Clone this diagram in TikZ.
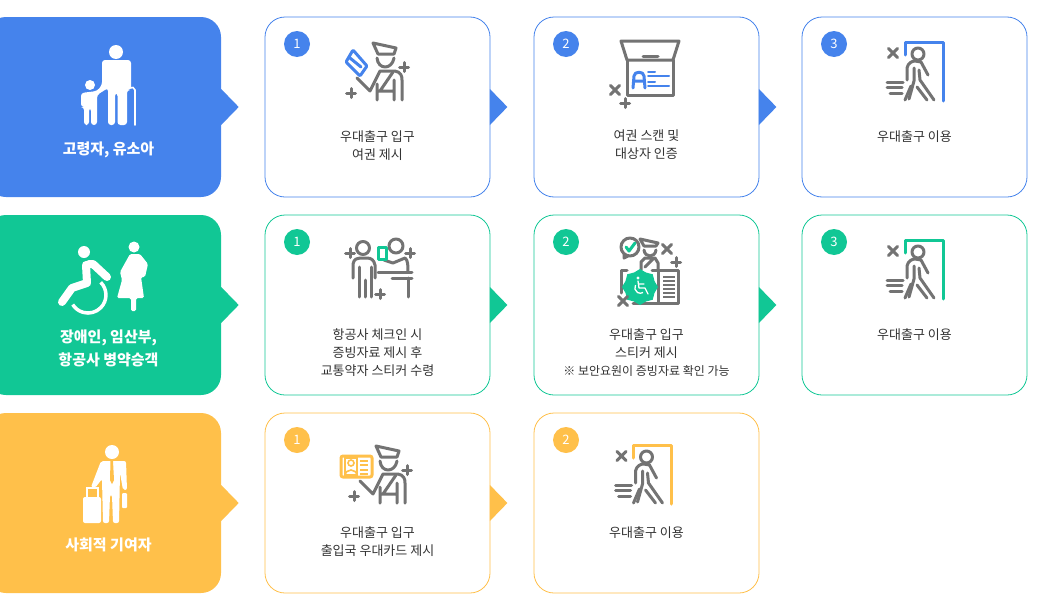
\documentclass[tikz,border=0pt]{standalone}
\usepackage{fontspec}
\setmainfont{Noto Sans CJK KR}
\usetikzlibrary{shapes.geometric}
\definecolor{bluec}{HTML}{4583EC}
\definecolor{greenc}{HTML}{11C795}
\definecolor{yellowc}{HTML}{FFC04A}
\definecolor{greyc}{HTML}{737373}
\definecolor{textc}{HTML}{333333}
\tikzset{
	panel/.style={fill=#1, rounded corners=20, minimum width=235, minimum height=180, inner sep=0},
	stepbox/.style={draw=#1, line width=0.8, fill=white, rounded corners=20, minimum width=225, minimum height=180, inner sep=0},
	badge/.style={circle, fill=#1, text=white, minimum size=26, inner sep=0, font=\fontsize{13}{13}\selectfont},
	steptext/.style={align=center, text=textc, anchor=north, inner sep=0, font=\fontsize{13}{18}\selectfont},
	paneltext/.style={align=center, text=white, anchor=north, inner sep=0, font=\fontsize{15}{23}\selectfont\bfseries},
	icon/.style={draw=greyc, line width=3, line cap=round, line join=round},
	accent/.style={draw=#1, line width=3, line cap=round, line join=round},
	whitefig/.style={fill=white, draw=none}
}
% small marks
\newcommand{\plusmark}[1]{\draw[icon] (#1) ++(-4.5,0) -- ++(9,0) (#1) ++(0,-4.5) -- ++(0,9);}
\newcommand{\xmark}[1]{\draw[icon] (#1) ++(-4.5,-4.5) -- ++(9,9) (#1) ++(4.5,-4.5) -- ++(-9,9);}
% officer and walker, drawn at their place in the first row
\newcommand{\officer}{
	\draw[icon] (373,43) -- (396,48) -- (394,54) -- (378,54) -- cycle;
	\draw[icon] (377,58) .. controls (378,70) and (392,70) .. (394,58);
	\draw[icon] (357,78) -- (370,91) -- (376,79) -- (380,71) -- (395,71) .. controls (401,72) and (402,76) .. (402,80) -- (402,100);
	\draw[icon] (377,84) -- (377,100) (394,80) -- (394,100) (377,91) -- (394,91) (380,91) -- (393,72);
	\plusmark{404,67}
	\plusmark{351,93}
}
\newcommand{\walker}[1]{
	\draw[accent=#1] (905,55) -- (905,42) -- (943,42) -- (943,101);
	\draw[icon] (918,54) circle (6);
	\draw[icon] (907,80) -- (907,68) .. controls (908,63) and (912,61) .. (915,61) -- (921,62) -- (928,75);
	\draw[icon] (914,68) -- (914,81) -- (909,99);
	\draw[icon] (919,70) -- (920,80) -- (934,100) (917,87) -- (927,100) (911,86) -- (905,100);
	\draw[icon] (887,82) -- (903,82) (887,87) -- (902,87) (890,93) -- (902,93);
	\xmark{893,53}
}
\begin{document}
\begin{tikzpicture}[x=1pt, y=-1pt]
	\useasboundingbox (0,0) rectangle (1039,608);

	% left panels
	\node[panel=bluec] (P1) at (103.5,107) {};
	\node[panel=greenc] (P2) at (103.5,305) {};
	\node[panel=yellowc] (P3) at (103.5,503) {};
	\fill[bluec] (P1.east) ++(0,-18) -- ++(17.5,18) -- ++(-17.5,18) -- cycle;
	\fill[greenc] (P2.east) ++(0,-18) -- ++(17.5,18) -- ++(-17.5,18) -- cycle;
	\fill[yellowc] (P3.east) ++(0,-18) -- ++(17.5,18) -- ++(-17.5,18) -- cycle;

	% step boxes
	\node[stepbox=bluec] (A1) at (377.5,107) {};
	\node[stepbox=bluec] (A2) at (646.5,107) {};
	\node[stepbox=bluec] (A3) at (914.5,107) {};
	\node[stepbox=greenc] (B1) at (377.5,305) {};
	\node[stepbox=greenc] (B2) at (646.5,305) {};
	\node[stepbox=greenc] (B3) at (914.5,305) {};
	\node[stepbox=yellowc] (C1) at (377.5,503) {};
	\node[stepbox=yellowc] (C2) at (646.5,503) {};

	% arrow tips between the boxes
	\fill[bluec] (A1.east) ++(-0.5,-18) -- ++(17.5,18) -- ++(-17.5,18) -- cycle;
	\fill[bluec] (A2.east) ++(-0.5,-18) -- ++(17.5,18) -- ++(-17.5,18) -- cycle;
	\fill[greenc] (B1.east) ++(-0.5,-18) -- ++(17.5,18) -- ++(-17.5,18) -- cycle;
	\fill[greenc] (B2.east) ++(-0.5,-18) -- ++(17.5,18) -- ++(-17.5,18) -- cycle;
	\fill[yellowc] (C1.east) ++(-0.5,-18) -- ++(17.5,18) -- ++(-17.5,18) -- cycle;

	% number badges
	\node[badge=bluec] (NA1) at (297,44) {1};
	\node[badge=bluec] (NA2) at (566,44) {2};
	\node[badge=bluec] (NA3) at (834,44) {3};
	\node[badge=greenc] (NB1) at (297,242) {1};
	\node[badge=greenc] (NB2) at (566,242) {2};
	\node[badge=greenc] (NB3) at (834,242) {3};
	\node[badge=yellowc] (NC1) at (297,440) {1};
	\node[badge=yellowc] (NC2) at (566,440) {2};

	% texts
	\node[paneltext] (TP1) at (108.5,142) {고령자, 유소아};
	\node[paneltext] (TP2) at (108.5,329.5) {장애인, 임산부,\\항공사 병약승객};
	\node[paneltext] (TP3) at (108.5,538) {사회적 기여자};
	\node[steptext] (TA1) at (377.5,130) {우대출구 입구\\여권 제시};
	\node[steptext] (TA2) at (646.5,130) {여권 스캔 및\\대상자 인증};
	\node[steptext] (TA3) at (914.5,130) {우대출구 이용};
	\node[steptext] (TB1) at (377.5,328) {항공사 체크인 시\\증빙자료 제시 후\\교통약자 스티커 수령};
	\node[steptext] (TB2) at (646.5,328) {우대출구 입구\\스티커 제시\\{\fontsize{12}{18}\selectfont ※ 보안요원이 증빙자료 확인 가능}};
	\node[steptext] (TB3) at (914.5,328) {우대출구 이용};
	\node[steptext] (TC1) at (377.5,526) {우대출구 입구\\출입국 우대카드 제시};
	\node[steptext] (TC2) at (646.5,526) {우대출구 이용};

	% elderly and child
	\fill[whitefig] (116,52) circle (7);
	\fill[whitefig, rounded corners=3] (102,60) -- (131,60) -- (131,90) -- (127,90) -- (127,125) -- (117.5,125) -- (117.5,93) -- (115,93) -- (115,125) -- (108,125) -- (108,88) -- (97,95) -- (97,125) -- (91,125) -- (91,108) -- (89,108) -- (89,125) -- (84,125) -- (84,107) -- (81,107) -- (81,93) -- (97,91) -- (102,85) -- cycle;
	\fill[whitefig] (90,85) circle (5);
	\draw[white, line width=1.6, line cap=round] (135,125) -- (135,90) -- (133,87.5) -- (130,88);

	% wheelchair and pregnant woman
	\fill[whitefig] (84,252) circle (6);
	\draw[white, line width=8, line cap=round, line join=round] (86,265) -- (87,283) -- (72,288) -- (62,302) (89,264) -- (93,264) -- (107,277);
	\draw[white, line width=3.5] (100.7,282.3) arc[start angle=-45, end angle=148, radius=18];
	\fill[whitefig] (134,247) circle (5.5);
	\fill[whitefig, rounded corners=1.5] (130,254) -- (140,254) -- (148,264) -- (145,277) -- (141,277) -- (144,298) -- (136,298) -- (136,311) -- (131,311) -- (131,298) -- (117,298) -- (122,280) -- (120,272) -- cycle;

	% business traveller
	\fill[whitefig] (112,452) circle (7);
	\fill[whitefig, rounded corners=2] (101,461) -- (126,461) -- (127,490) -- (123,490) -- (120,473) -- (119,523) -- (113,523) -- (112,495) -- (110,495) -- (109,523) -- (103,523) -- (102,479) -- (95,488) -- (91,487) -- cycle;
	\fill[yellowc] (110.5,461) -- (113,461) -- (114,480) -- (112,484) -- (110,480) -- cycle;
	\fill[whitefig, rounded corners=2] (83,497) rectangle (101,523);
	\draw[white, line width=1.6] (87,497) -- (87,488) -- (98,488) -- (98,497);
	\fill[whitefig, rounded corners=1] (122,493) rectangle (127,508);

	% row one icons
	\officer
	\draw[accent=bluec, rounded corners=1] (353,50) -- (346,62) -- (360,76) -- (367,66) -- cycle;
	\draw[accent=bluec] (350,58) -- (361,67);
	\draw[icon] (621,41) -- (679,41) -- (673,60) -- (627,60) -- cycle;
	\draw[icon] (627,60) -- (627,95) -- (673,95) -- (673,60);
	\draw[icon] (643,56) -- (658,56);
	\xmark{615,90}
	\plusmark{625,103}
	\draw[accent=bluec] (633,88) -- (634,76) .. controls (634,71) and (644,71) .. (644,76) -- (645,88) (634,81) -- (644,81);
	\draw[accent=bluec, line width=2] (648,72) -- (655,72) (648,76) -- (669,76) (648,82) -- (655,82) (648,86) -- (669,86);
	\walker{bluec}

	% row two icons
	\draw[icon] (363,248) circle (6.5);
	\draw[icon] (353,278) -- (353,264) .. controls (354,259) and (357,258) .. (360,258) -- (367,258) .. controls (371,258) and (374,260) .. (375,265) -- (375,278);
	\draw[icon] (359,267) -- (359,297) (365,280) -- (365,297) (371,267) -- (371,297);
	\draw[icon] (396,246) circle (7);
	\draw[icon] (384,260) -- (393,263) -- (405,258) .. controls (408,260) and (408,266) .. (408,272);
	\draw[icon] (378,272) -- (412,272) (392,278) -- (412,278) (408,278) -- (408,297);
	\draw[accent=greenc] (378,247) rectangle (386,259);
	\plusmark{350,253}
	\plusmark{410,253}
	\plusmark{380,294}

	\draw[icon] (630,247) circle (9) (624,254) -- (624,258) -- (628,256);
	\draw[accent=greenc] (626,247) -- (629,251) -- (635,243);
	\draw[icon] (640,239) -- (658,243) -- (656,246) -- (644,246) -- cycle;
	\draw[icon] (644,250) .. controls (645,258) and (655,258) .. (656,250);
	\draw[icon] (641,270) -- (641,262) -- (645,258) -- (655,258) -- (658,263) -- (658,270) (645,267) -- (653,259);
	\draw[icon] (627,270) -- (621,270) -- (621,293) (652,270) -- (678,270) -- (678,303) -- (633,303) (658,270) -- (658,303);
	\draw[greyc, line width=2] (663,277) -- (675,277) (663,281) -- (675,281) (663,285) -- (675,285) (663,289) -- (675,289) (663,293) -- (675,293) (663,297) -- (675,297);
	\node[star, star points=8, star point ratio=1.15, minimum size=36, inner sep=0, fill=greenc] (S) at (640,287) {};
	\fill[whitefig] (638,278) circle (1.6);
	\draw[white, line width=1.3, line cap=round, line join=round] (638,281) -- (639,288) -- (645,288) -- (648,294) (639,284) -- (644,284);
	\draw[white, line width=1.3] (635.5,285) arc[start angle=-150, end angle=-300, radius=5.5];
	\xmark{667,249}
	\plusmark{676,262}
	\xmark{623,301}
	\begin{scope}[shift={(0,198)}]
		\walker{greenc}
	\end{scope}

	% row three icons
	\begin{scope}[shift={(3,403)}]
		\officer
	\end{scope}
	\draw[accent=yellowc, rounded corners=2] (341,456) rectangle (372,477);
	\draw[yellowc, line width=1.6] (351,463) circle (3) (345,476) .. controls (345,468) and (357,468) .. (357,476);
	\draw[yellowc, line width=1.6] (345,458) rectangle (357,475);
	\draw[yellowc, line width=1.6] (360,461) -- (368,461) (360,465) -- (368,465) (360,470) -- (368,470) (360,474) -- (368,474);
	\begin{scope}[shift={(-271.5,403)}]
		\walker{yellowc}
	\end{scope}
\end{tikzpicture}
\end{document}
